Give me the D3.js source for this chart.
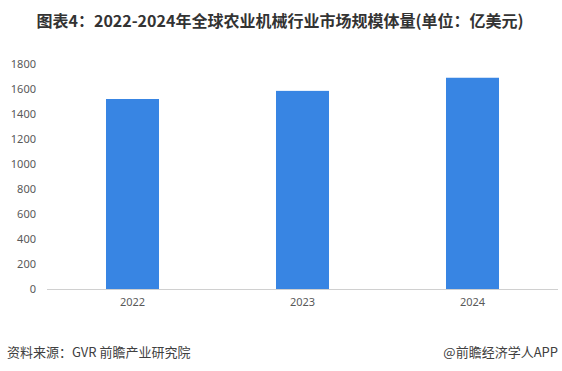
<!DOCTYPE html>
<html>
<head>
<meta charset="utf-8">
<script src="https://cdn.jsdelivr.net/npm/d3@7"></script>
<style>
  body { margin: 0; background: #fff; }
  svg { display: block; font-family: "Noto Sans CJK SC", "Noto Sans", sans-serif; }
</style>
</head>
<body>
<div id="chart"></div>
<script>
const years = ["2022", "2023", "2024"];
const values = [1520, 1585, 1690];
const yTicks = [0, 200, 400, 600, 800, 1000, 1200, 1400, 1600, 1800];

const W = 562, H = 371;
const svg = d3.select("#chart").append("svg")
    .attr("width", W)
    .attr("height", H);

svg.append("rect").attr("width", W).attr("height", H).attr("fill", "#fff");

// title
svg.append("text")
    .attr("x", 280)
    .attr("y", 27)
    .attr("text-anchor", "middle")
    .attr("font-size", 16)
    .attr("font-weight", "bold")
    .attr("fill", "#333")
    .text("图表4：2022-2024年全球农业机械行业市场规模体量(单位：亿美元)");

const x = d3.scaleBand()
    .domain(years)
    .range([47.5, 557.5])
    .paddingInner(0.6882)
    .paddingOuter(0.3441);

const y = d3.scaleLinear()
    .domain([0, 1800])
    .range([289, 64]);

// y tick labels (no axis line)
const yAxis = svg.append("g")
    .attr("transform", "translate(40,0)")
    .call(d3.axisLeft(y).tickValues(yTicks).tickFormat(d3.format("d")).tickSize(0).tickPadding(4));
yAxis.select(".domain").remove();
yAxis.selectAll("text")
    .attr("font-size", 11)
    .attr("fill", "#595959")
    .attr("font-family", "\"Noto Sans\", sans-serif");

// bars
svg.selectAll("rect.bar")
    .data(values)
    .enter().append("rect")
    .attr("class", "bar")
    .attr("x", (d, i) => x(years[i]))
    .attr("y", d => y(d))
    .attr("width", x.bandwidth())
    .attr("height", d => y(0) - y(d))
    .attr("fill", "#3885e3");

// x axis
const xAxis = svg.append("g")
    .attr("transform", "translate(0," + y(0) + ")")
    .call(d3.axisBottom(x).tickSize(0).tickPadding(9).tickSizeOuter(0));
xAxis.select(".domain")
    .attr("stroke", "#d0d0d0")
    .attr("d", "M47,0.5H558");
xAxis.selectAll("text")
    .attr("font-size", 11)
    .attr("fill", "#595959")
    .attr("font-family", "\"Noto Sans\", sans-serif");

// footer
svg.append("text")
    .attr("x", 7)
    .attr("y", 357)
    .attr("font-size", 13)
    .attr("fill", "#404040")
    .text("资料来源：GVR 前瞻产业研究院");

svg.append("text")
    .attr("x", 558)
    .attr("y", 357)
    .attr("text-anchor", "end")
    .attr("font-size", 13)
    .attr("fill", "#404040")
    .text("@前瞻经济学人APP");
</script>
</body>
</html>
